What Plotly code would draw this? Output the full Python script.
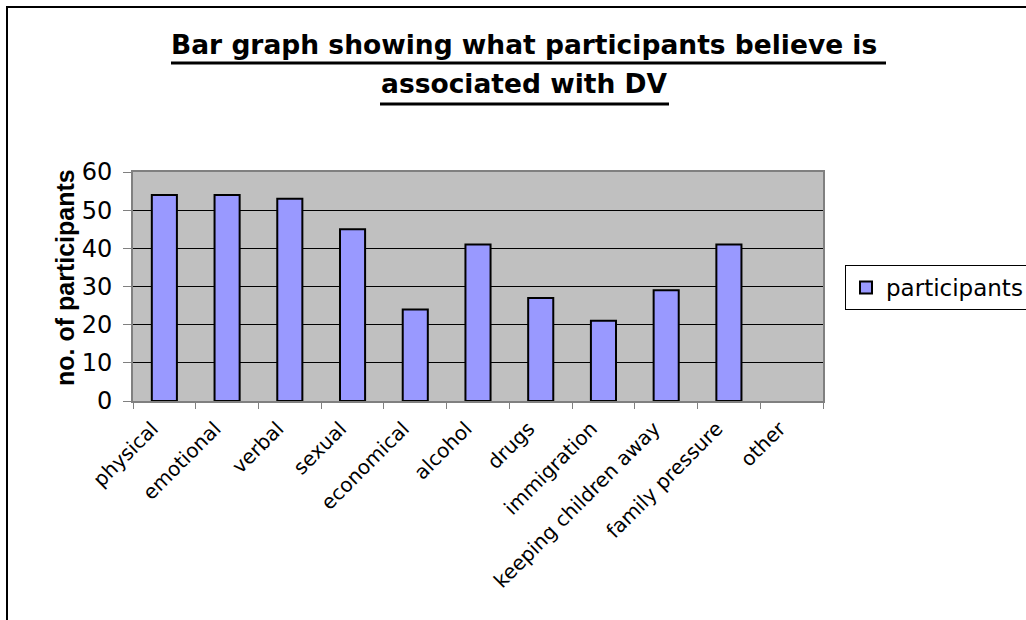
import plotly.graph_objects as go

categories = ["physical", "emotional", "verbal", "sexual", "economical", "alcohol",
              "drugs", "immigration", "keeping children away", "family pressure", "other"]
participants = [54, 54, 53, 45, 24, 41, 27, 21, 29, 41, 0]
y_ticks = [0, 10, 20, 30, 40, 50, 60]

W, H = 1026, 620
L, R, T, B = 133, 823, 172, 401  # plot area in pixels

def px(x):
    return (x - L) / (R - L)

def py(y):
    return (B - y) / (B - T)

fig = go.Figure()
fig.add_trace(go.Bar(
    x=categories, y=participants, name="participants",
    marker=dict(color="#9999FF",
                line=dict(color="black", width=[2 if v else 0 for v in participants])),
    showlegend=True,
))

fig.update_layout(
    width=W, height=H, autosize=False,
    margin=dict(l=L, r=W - R, t=T, b=H - B, pad=0, autoexpand=False),
    paper_bgcolor="white", plot_bgcolor="#C0C0C0",
    bargap=0.6,
    font=dict(family="DejaVu Sans", size=22, color="black"),
    showlegend=True,
    legend=dict(x=px(845), y=py(265), xanchor="left", yanchor="top",
                bgcolor="white", bordercolor="black", borderwidth=1,
                font=dict(family="DejaVu Sans", size=23, color="black")),
    xaxis=dict(type="category", tickangle=-45, showgrid=False, automargin=False,
               showline=True, linecolor="#808080", linewidth=2, mirror=True,
               ticks="outside", tickson="boundaries", ticklen=6, tickcolor="#808080",
               ticklabelshift=-12, ticklabelstandoff=6,
               tickfont=dict(family="DejaVu Sans", size=20, color="black")),
    yaxis=dict(range=[0, 60], tickvals=y_ticks, showgrid=True, gridcolor="black",
               gridwidth=1, zeroline=False, automargin=False,
               showline=True, linecolor="#808080", linewidth=2, mirror=True,
               ticks="outside", ticklen=8, tickcolor="#808080",
               ticklabelstandoff=6,
               tickfont=dict(family="DejaVu Sans", size=24, color="black")),
)

# Title (two lines, underlined with thick rules like the reference)
fig.add_annotation(text="Bar graph showing what participants believe is\u00a0",
                   xref="paper", yref="paper", x=px(528), y=py(45),
                   xanchor="center", yanchor="middle", showarrow=False,
                   font=dict(family="DejaVu Sans", size=26.5, color="black", weight="bold"))
fig.add_annotation(text="associated with DV",
                   xref="paper", yref="paper", x=px(524), y=py(83),
                   xanchor="center", yanchor="middle", showarrow=False,
                   font=dict(family="DejaVu Sans", size=26.5, color="black", weight="bold"))
fig.add_shape(type="line", xref="paper", yref="paper",
              x0=px(171), x1=px(886), y0=py(63), y1=py(63),
              line=dict(color="black", width=3))
fig.add_shape(type="line", xref="paper", yref="paper",
              x0=px(380), x1=px(669), y0=py(104), y1=py(104),
              line=dict(color="black", width=3))

# Y axis title
fig.add_annotation(text="<b>no. of participants</b>", textangle=-90,
                   xref="paper", yref="paper", x=px(65), y=py(278),
                   xanchor="center", yanchor="middle", showarrow=False,
                   font=dict(family="Liberation Sans", size=25, color="black"))

# Outer chart border (cut off at right and bottom like the reference)
fig.add_shape(type="rect", xref="paper", yref="paper",
              x0=px(7), x1=px(1040), y0=py(7), y1=py(640),
              line=dict(color="black", width=2), fillcolor="rgba(0,0,0,0)", layer="above")

fig.write_html("out.html", config={"displayModeBar": False},
               post_script="document.body.style.margin='0px';document.body.style.overflow='hidden';")
